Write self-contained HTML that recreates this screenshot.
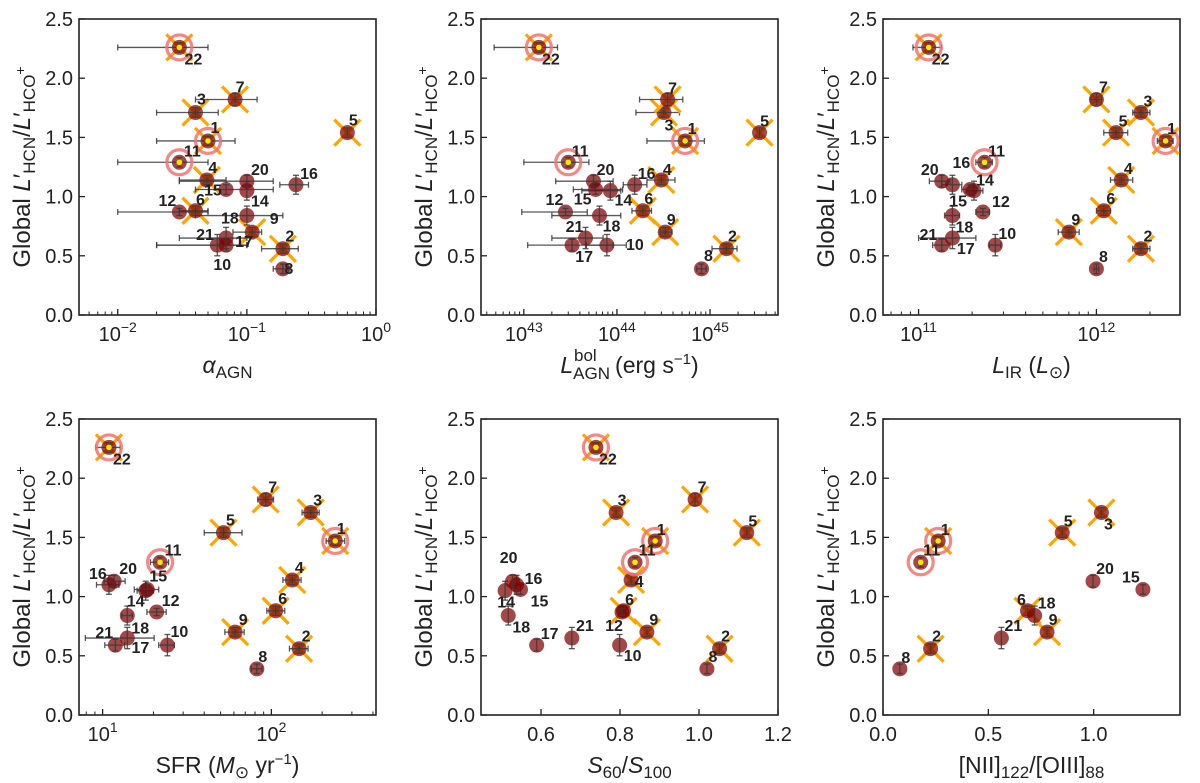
<!DOCTYPE html>
<html><head><meta charset="utf-8"><style>
html,body{margin:0;padding:0;background:#fff;}
svg{display:block;font-family:"Liberation Sans",sans-serif;}
</style></head><body>
<svg id="fig" width="1200" height="783" viewBox="0 0 1200 783" xmlns="http://www.w3.org/2000/svg"></svg>
<script>
// ---- galaxy data (shared y) ----
const ids   = [1,2,3,4,5,6,7,8,9,10,11,12,14,15,16,17,18,20,21,22];
const yVal  = [1.47,0.56,1.71,1.14,1.54,0.88,1.82,0.39,0.70,0.59,1.29,0.87,1.05,1.06,1.10,0.59,0.84,1.13,0.65,2.26];
const yErr  = [0.04,0.04,0.04,0.04,0.04,0.04,0.05,0.04,0.04,0.09,0.04,0.03,0.08,0.04,0.08,0.05,0.08,0.05,0.09,0.04];
const ringIds  = [1,11,22];
const crossIds = [1,2,3,4,5,6,7,9,22];

// ---- panel 1: alpha_AGN ----
const p1x  = [0.050,0.19,0.040,0.049,0.60,0.040,0.081,0.19,0.11,0.059,0.030,0.030,0.10,0.069,0.24,0.069,0.10,0.10,0.069,0.030];
const p1lo = [0.020,0.13,0.020,0.030,0.60,0.030,0.040,0.16,0.078,0.020,0.010,0.010,0.10,0.040,0.18,0.020,0.040,0.030,0.030,0.010];
const p1hi = [0.081,0.25,0.060,0.069,0.60,0.050,0.12,0.21,0.13,0.10,0.050,0.050,0.10,0.16,0.30,0.10,0.19,0.16,0.10,0.050];
// ---- panel 2: L_AGN bol ----
const p2x  = [5.4e44,1.5e45,3.2e44,3.0e44,3.4e45,1.9e44,3.5e44,8.1e44,3.3e44,7.8e43,3.0e43,2.8e43,8.5e43,5.9e43,1.55e44,3.3e43,6.5e43,5.6e43,4.6e43,1.45e43];
const p2lo = [2.1e44,1.05e45,1.6e44,2.1e44,3.4e45,1.45e44,1.75e44,7.2e44,2.9e44,4.7e43,1.0e43,9.5e42,4.2e43,3.4e43,1.17e44,1.1e43,2.0e43,2.2e43,2.0e43,4.8e42];
const p2hi = [8.7e44,1.95e45,4.7e44,4.2e44,3.4e45,2.35e44,5.1e44,9.1e44,3.9e44,1.26e44,5.0e43,4.8e43,1.1e44,1.15e44,2.1e44,9.1e43,1.1e44,9.1e43,7.1e43,2.3e43];
// ---- panel 3: L_IR ----
const p3x  = [2.45e12,1.78e12,1.78e12,1.38e12,1.29e12,1.10e12,1.0e12,1.0e12,7.0e11,2.7e11,2.35e11,2.3e11,2.05e11,1.95e11,1.55e11,1.35e11,1.55e11,1.35e11,1.55e11,1.14e11];
const p3lo = [2.2e12,1.6e12,1.6e12,1.2e12,1.1e12,1.0e12,0.93e12,0.97e12,6.1e11,2.5e11,2.1e11,2.1e11,1.85e11,1.75e11,1.35e11,1.2e11,1.4e11,1.15e11,1.0e11,0.93e11];
const p3hi = [2.7e12,2.0e12,2.0e12,1.6e12,1.5e12,1.2e12,1.07e12,1.03e12,8.0e11,2.9e11,2.6e11,2.5e11,2.3e11,2.15e11,1.75e11,1.5e11,1.7e11,1.5e11,2.1e11,1.35e11];
// ---- panel 4: SFR ----
const p4x  = [239,146,171,133,52,106,92.5,82,61,24.2,21.9,20.9,18,18.4,10.9,11.9,14,11.7,14,10.9];
const p4lo = [211,128,152,117,40,94,83,76,53,21.5,19.2,18.3,16,15.4,9.2,10.3,13,10.2,7.9,9.1];
const p4hi = [272,165,192,150,67,120,103,88,69,26.6,24.6,23.8,20,21.5,12.5,13.5,15,13.6,20.2,12.7];
// ---- panel 5: S60/S100 ----
const p5x  = [0.889,1.052,0.790,0.828,1.121,0.809,0.990,1.020,0.868,0.799,0.838,0.805,0.509,0.548,0.538,0.589,0.517,0.528,0.678,0.739];
// ---- panel 6: [NII]/[OIII] (null = not available) ----
const p6x  = [0.262,0.226,1.037,null,0.851,0.686,null,0.080,0.779,null,0.179,null,null,1.234,null,null,0.720,0.997,0.562,null];

const NS='http://www.w3.org/2000/svg';
const svg=document.getElementById('fig');
function mk(tag,attrs,parent){const e=document.createElementNS(NS,tag);for(const k in attrs)e.setAttribute(k,attrs[k]);(parent||svg).appendChild(e);return e;}

// label offsets (layout only, px)
const labOff = {
1:{1:[7,-14],2:[7,-13],3:[6,-14],4:[6,-13],5:[6,-13],6:[5,-12],7:[5,-13],8:[6,-1],9:[22,-14],10:[5,19],11:[13,-12],12:[-12,-12],14:[13,10],15:[-13,0],16:[13,-12],17:[18,-4],18:[-17,2],20:[13,-12],21:[-21,-4],22:[14,11]},
2:{1:[7,-13],2:[6,-13],3:[5,12],4:[6,-11],5:[5,-12],6:[6,-13],7:[5,-12],8:[7,-14],9:[6,-13],10:[28,-1],11:[12,-12],12:[-11,-13],14:[13,9],15:[-13,9],16:[12,-12],17:[12,11],18:[12,10],20:[12,-12],21:[-11,-12],22:[12,11]},
3:{1:[6,-13],2:[7,-13],3:[7,-12],4:[7,-12],5:[7,-12],6:[7,-13],7:[7,-13],8:[7,-13],9:[7,-13],10:[12,-12],11:[12,-12],12:[18,-11],14:[11,-11],15:[-12,11],16:[9,-23],17:[24,3],18:[12,11],20:[-12,-12],21:[-24,-4],22:[12,11]},
4:{1:[6,-13],2:[7,-13],3:[7,-13],4:[7,-13],5:[7,-13],6:[7,-13],7:[7,-13],8:[6,-13],9:[8,-13],10:[12,-14],11:[13,-13],12:[14,-12],14:[-10,10],15:[11,-14],16:[-11,-12],17:[25,2],18:[13,12],20:[14,-13],21:[-23,-6],22:[13,11]},
5:{1:[6,-12],2:[6,-13],3:[6,-13],4:[8,1],5:[6,-12],6:[6,-12],7:[7,-13],8:[6,-13],9:[7,-13],10:[13,10],11:[12,-13],12:[-8,13],14:[1,11],15:[19,11],16:[17,-7],17:[13,-12],18:[13,11],20:[-4,-24],21:[13,-13],22:[12,11]},
6:{1:[7,-12],2:[6,-13],3:[7,11],5:[6,-12],6:[-6,-12],8:[6,-12],9:[6,-13],11:[11,-13],15:[-12,-13],18:[12,-13],20:[12,-13],21:[12,-13]}
};

const panels=[
 {n:1,x0:79,y0:19,log:true,dom:[-2.3,0],xv:p1x,lo:p1lo,hi:p1hi,ticks:[-2,-1,0],tl:['\u22122','\u22121','0'],xlab:'alpha'},
 {n:2,x0:481,y0:19,log:true,dom:[42.54,45.73],xv:p2x,lo:p2lo,hi:p2hi,ticks:[43,44,45],tl:['43','44','45'],xlab:'lagn'},
 {n:3,x0:883,y0:19,log:true,dom:[10.80,12.47],xv:p3x,lo:p3lo,hi:p3hi,ticks:[11,12],tl:['11','12'],xlab:'lir'},
 {n:4,x0:79,y0:419,log:true,dom:[0.86,2.62],xv:p4x,lo:p4lo,hi:p4hi,ticks:[1,2],tl:['1','2'],xlab:'sfr'},
 {n:5,x0:481,y0:419,log:false,dom:[0.448,1.2],xv:p5x,lo:null,hi:null,ticks:[0.6,0.8,1.0,1.2],tl:['0.6','0.8','1.0','1.2'],xlab:'s60'},
 {n:6,x0:883,y0:419,log:false,dom:[0,1.41],xv:p6x,lo:null,hi:null,ticks:[0,0.5,1.0],tl:['0.0','0.5','1.0'],xlab:'nii'}
];
const W=297,H=296,YMAX=2.5;

panels.forEach(p=>{
  const g=mk('g',{});
  
  
  const sx=v=>{const t=p.log?Math.log10(v):v;return p.x0+(t-p.dom[0])/(p.dom[1]-p.dom[0])*W;};
  const sy=v=>p.y0+H-(v/YMAX)*H;
  const bottom=p.y0+H;
  [0,0.5,1.0,1.5,2.0,2.5].forEach(v=>{
    mk('line',{x1:p.x0,x2:p.x0+6,y1:sy(v),y2:sy(v),stroke:'#222','stroke-width':1.3},g);
    const t=mk('text',{x:p.x0-6,y:sy(v)+7,'text-anchor':'end','font-size':20,fill:'#222'},g);
    t.textContent=v.toFixed(1);
    
    
  });
  p.ticks.forEach((tv,i)=>{
    const px=p.log?p.x0+(tv-p.dom[0])/(p.dom[1]-p.dom[0])*W:sx(tv);
    mk('line',{x1:px,x2:px,y1:bottom,y2:bottom-6,stroke:'#222','stroke-width':1.3},g);
    const t=mk('text',{x:px,y:bottom+26,'text-anchor':'middle','font-size':20,fill:'#222'},g);
    
    
    if(p.log){t.textContent='10';const s=mk('tspan',{dy:-9,'font-size':14},t);s.textContent=p.tl[i];}
    else t.textContent=p.tl[i];
  });
  if(p.log){
    for(let d=Math.floor(p.dom[0]);d<=Math.ceil(p.dom[1]);d++){
      for(let m=2;m<=9;m++){const lv=d+Math.log10(m);if(lv<=p.dom[0]||lv>=p.dom[1])continue;
        const px=p.x0+(lv-p.dom[0])/(p.dom[1]-p.dom[0])*W;
        mk('line',{x1:px,x2:px,y1:bottom,y2:bottom-3.5,stroke:'#222','stroke-width':1},g);}
    }
  }
  const fr=mk('rect',{x:p.x0,y:p.y0,width:W,height:H,fill:'none',stroke:'#222','stroke-width':1.6},g);
  
  
  const yl=mk('text',{transform:`translate(${p.x0-49},${p.y0+H/2}) rotate(-90)`,'text-anchor':'middle','font-size':24,fill:'#222'},g);
  
  
  yl.innerHTML='Global <tspan font-style="italic">L</tspan>\u2032<tspan dy="5" font-size="17">HCN</tspan><tspan dy="-5">/</tspan><tspan font-style="italic">L</tspan>\u2032<tspan dy="5" font-size="17">HCO</tspan><tspan dy="-10" font-size="14">+</tspan>';
  const xl=mk('text',{x:p.x0+W/2,y:bottom+58,'text-anchor':'middle','font-size':23,fill:'#222'},g);
  
  
  const lab={
    alpha:'<tspan font-style="italic">\u03b1</tspan><tspan dy="5" font-size="17">AGN</tspan>',
    lagn:'<tspan font-style="italic">L</tspan><tspan dy="6" font-size="17">AGN</tspan><tspan dx="-36" dy="-18" font-size="17">bol</tspan><tspan dx="12" dy="12"> (erg s</tspan><tspan dy="-9" font-size="15">\u22121</tspan><tspan dy="9">)</tspan>',
    lir:'<tspan font-style="italic">L</tspan><tspan dy="5" font-size="17">IR</tspan><tspan dy="-5"> (</tspan><tspan font-style="italic">L</tspan><tspan dy="5" font-size="17">\u2299</tspan><tspan dy="-5">)</tspan>',
    sfr:'SFR (<tspan font-style="italic">M</tspan><tspan dy="5" font-size="17">\u2299</tspan><tspan dy="-5"> yr</tspan><tspan dy="-9" font-size="15">\u22121</tspan><tspan dy="9">)</tspan>',
    s60:'<tspan font-style="italic">S</tspan><tspan dy="5" font-size="17">60</tspan><tspan dy="-5">/</tspan><tspan font-style="italic">S</tspan><tspan dy="5" font-size="17">100</tspan>',
    nii:'[NII]<tspan dy="5" font-size="17">122</tspan><tspan dy="-5">/[OIII]</tspan><tspan dy="5" font-size="17">88</tspan>'
  };
  xl.innerHTML=lab[p.xlab];

  const mg=mk('g',{},g);
  ids.forEach((id,i)=>{
    const xv=p.xv[i]; if(xv===null||xv===undefined) return;
    const cx=sx(xv), cy=sy(yVal[i]);
    if(crossIds.includes(id)){
      const c=mk('g',{stroke:'#ffa500','stroke-width':3.2},mg);
      
      
      mk('line',{x1:cx-13,y1:cy-13,x2:cx+13,y2:cy+13},c);
      mk('line',{x1:cx-13,y1:cy+13,x2:cx+13,y2:cy-13},c);
    }
    const pt=mk('circle',{cx:cx,cy:cy,r:7.5,fill:'#800000','fill-opacity':0.72},mg);
    
    
    const eg=mk('g',{stroke:'#3a3a3a','stroke-width':1.3,'stroke-opacity':0.85},mg);
    if(p.lo){
      const a=sx(p.lo[i]),b=sx(p.hi[i]);
      if(b-a>1){mk('line',{x1:a,x2:b,y1:cy,y2:cy},eg);
        mk('line',{x1:a,x2:a,y1:cy-3,y2:cy+3},eg);mk('line',{x1:b,x2:b,y1:cy-3,y2:cy+3},eg);}
    }
    const ya=sy(yVal[i]-yErr[i]),yb=sy(yVal[i]+yErr[i]);
    mk('line',{x1:cx,x2:cx,y1:ya,y2:yb},eg);
    mk('line',{x1:cx-3,x2:cx+3,y1:ya,y2:ya},eg);mk('line',{x1:cx-3,x2:cx+3,y1:yb,y2:yb},eg);
    if(ringIds.includes(id)){
      const r=mk('circle',{cx:cx,cy:cy,r:12.5,fill:'none',stroke:'#f4736f','stroke-width':3.2,'stroke-opacity':0.85},mg);
      
      
      mk('circle',{cx:cx,cy:cy,r:2.8,fill:'#ffe600'},mg);
    }
  });
  ids.forEach((id,i)=>{
    const xv=p.xv[i]; if(xv===null||xv===undefined) return;
    const o=(labOff[p.n][id])||[7,-13];
    const t=mk('text',{x:sx(xv)+o[0],y:sy(yVal[i])+o[1]+6,'text-anchor':'middle','font-size':16,'font-weight':'bold',fill:'#222'},mg);
    t.textContent=String(id);
    
    
  });
});
</script>
</body></html>
